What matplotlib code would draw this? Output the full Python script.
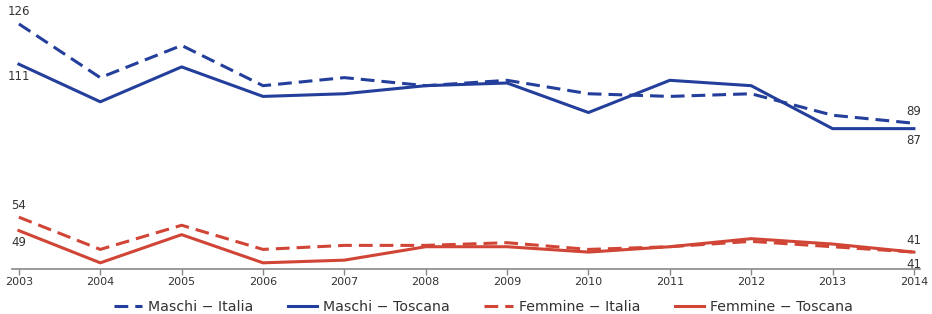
import matplotlib.pyplot as plt

# Dati
anni = [2003, 2004, 2005, 2006, 2007, 2008, 2009, 2010, 2011, 2012, 2013, 2014]
maschi_italia = [126, 106, 118, 103, 106, 103, 105, 100, 99, 100, 92, 89]
maschi_toscana = [111, 97, 110, 99, 100, 103, 104, 93, 105, 103, 87, 87]
femmine_italia = [54, 42, 51, 42, 43.5, 43.5, 44.5, 42, 43, 45, 43, 41]
femmine_toscana = [49, 37, 47.5, 37, 38, 43, 43, 41, 43, 46, 44, 41]

blu = '#243f9b'
rosso = '#d04536'
testo = '#333333'

fig = plt.figure(figsize=(9.32, 3.14), dpi=100)
ax = fig.add_axes([12 / 932, 1 - 269 / 314, 908 / 932, 259 / 314])

tratteggio = (0, (4.5, 2.3))
ax.plot(anni, maschi_italia, color=blu, lw=2.2, linestyle=tratteggio, label='Maschi \u2212 Italia')
ax.plot(anni, maschi_toscana, color=blu, lw=2.2, label='Maschi \u2212 Toscana')
ax.plot(anni, femmine_italia, color=rosso, lw=2.2, linestyle=tratteggio, label='Femmine \u2212 Italia')
ax.plot(anni, femmine_toscana, color=rosso, lw=2.2, label='Femmine \u2212 Toscana')

ax.set_xlim(2003 - 0.085, 2014 + 0.075)
ax.set_ylim(34.7, 131.2)

# Etichette valori iniziali e finali
def etichetta(x, y, sopra):
    off = 4 if sopra else -4
    ax.annotate(f'{y:.0f}', (x, y), xytext=(0, off), textcoords='offset points',
                ha='center', va='bottom' if sopra else 'top', fontsize=8.5, color=testo)

etichetta(anni[0], maschi_italia[0], True)
etichetta(anni[0], maschi_toscana[0], False)
etichetta(anni[-1], maschi_italia[-1], True)
etichetta(anni[-1], maschi_toscana[-1], False)
etichetta(anni[0], femmine_italia[0], True)
etichetta(anni[0], femmine_toscana[0], False)
etichetta(anni[-1], femmine_italia[-1], True)
etichetta(anni[-1], femmine_toscana[-1], False)

for s in ['top', 'right', 'left']:
    ax.spines[s].set_visible(False)
ax.spines['bottom'].set_color('#888888')
ax.spines['bottom'].set_linewidth(1.2)
ax.set_yticks([])
ax.set_xticks(anni)
ax.tick_params(axis='x', colors='#888888', labelcolor=testo, labelsize=8, length=4, width=1, pad=2)

ax.legend(loc='upper center', bbox_to_anchor=(0.519, -0.0965), ncol=4, frameon=False,
          fontsize=10.2, handlelength=2.0, handletextpad=0.45, columnspacing=2.45,
          labelcolor=testo, borderaxespad=0)

plt.savefig('out.png', dpi=100)
